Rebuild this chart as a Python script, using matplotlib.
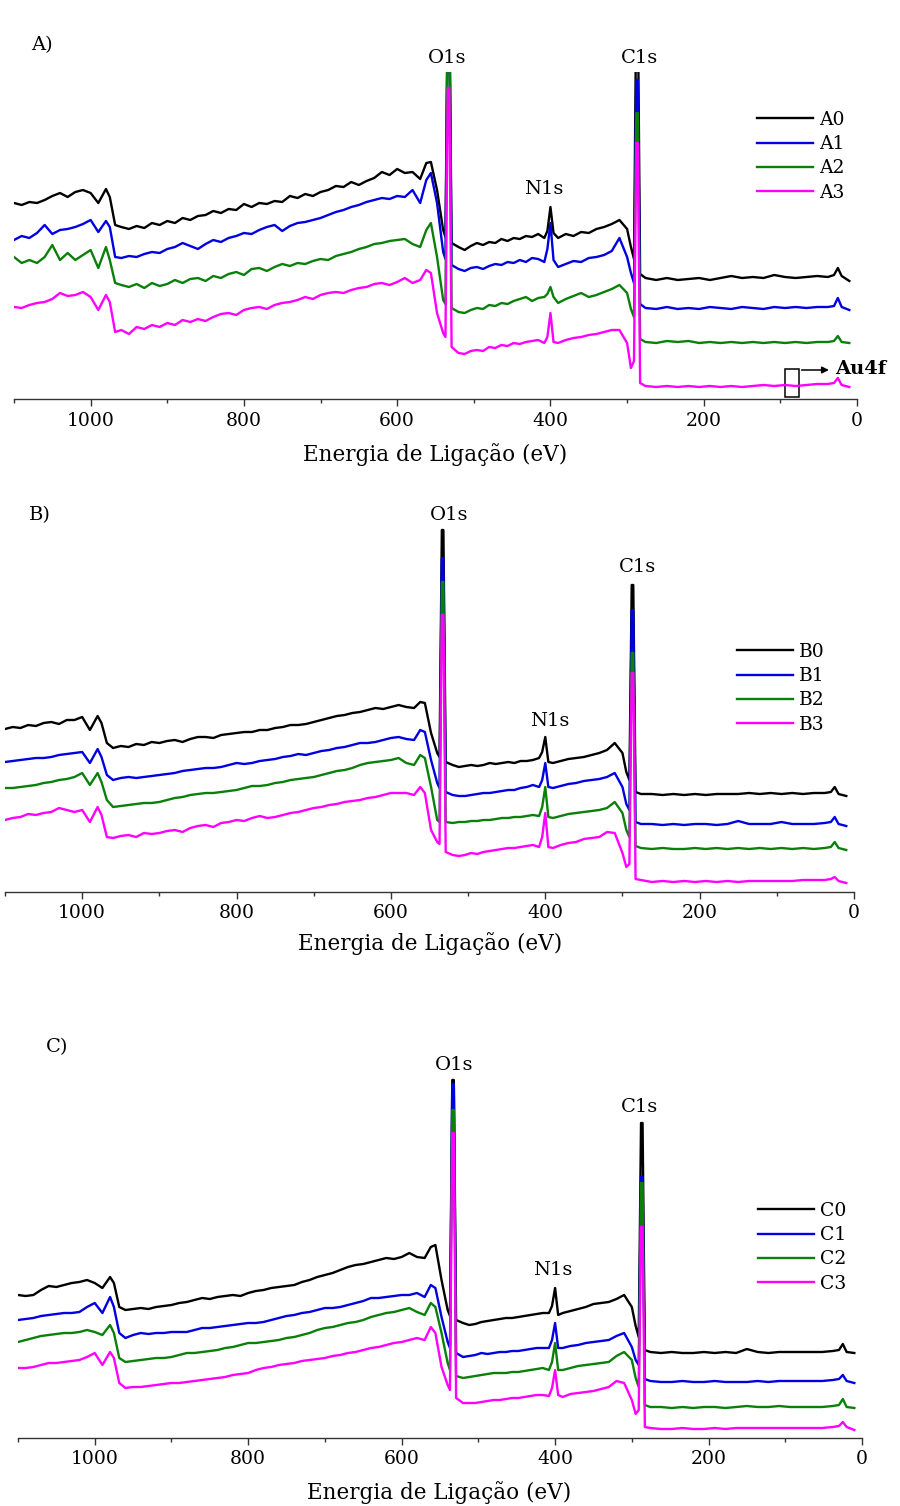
import matplotlib
matplotlib.use('Agg')
import matplotlib.pyplot as plt
from matplotlib.patches import Rectangle

plt.rcParams['font.family'] = ['DejaVu Serif']

# binding energy grid (eV), shared by all traces
energy = [1100, 1090, 1080, 1070, 1060, 1050, 1040, 1030, 1020, 1010, 1000, 990, 980, 975,
          968, 960, 950, 940, 930, 920, 910, 900, 890, 880, 870, 860, 850, 840, 830, 820,
          810, 800, 790, 780, 770, 760, 750, 740, 730, 720, 710, 700, 690, 680, 670, 660,
          650, 640, 630, 620, 610, 600,
          590, 580, 570, 562, 556, 548, 540, 537, 534, 532, 529,
          520, 512, 504, 496, 488, 480, 472, 464, 456, 448, 440, 432, 424, 416, 408, 404, 400, 396,
          390, 380, 370, 360, 350, 340, 330, 320, 310, 300, 295, 291, 288, 286, 283,
          276, 262, 248, 234, 220, 206, 192, 178, 164, 150, 136, 122, 108, 94, 80, 66, 52, 38,
          30, 25, 20, 10]

# panel A (offset intensities, a.u.)
A0 = [196, 194, 197, 196, 199, 203, 206, 202, 207, 209, 206, 196, 210, 202,
      174, 172, 170, 173, 171, 176, 174, 178, 176, 181, 179, 183, 184, 188, 186, 190,
      189, 195, 192, 196, 195, 198, 197, 203, 201, 205, 203, 207, 209, 213, 212, 217,
      214, 218, 221, 227, 224, 230,
      226, 227, 220, 236, 237, 209, 169, 162, 400, 400, 156,
      152, 149, 153, 156, 154, 157, 156, 160, 158, 161, 160, 163, 162, 165, 161, 168, 192, 166,
      161, 165, 163, 167, 166, 170, 172, 175, 179, 170, 152, 140, 400, 400, 125,
      121, 119, 121, 119, 120, 121, 119, 121, 123, 121, 122, 121, 124, 122, 121, 122, 123, 122,
      124, 131, 123, 118]
A1 = [159, 163, 161, 166, 174, 165, 169, 170, 172, 175, 179, 167, 178, 172,
      142, 141, 143, 142, 145, 147, 146, 150, 152, 156, 153, 150, 155, 159, 157, 161,
      163, 166, 165, 169, 172, 174, 168, 173, 176, 177, 179, 181, 184, 187, 189, 192,
      194, 197, 199, 201, 200, 203,
      202, 209, 196, 219, 226, 196, 147, 140, 400, 400, 134,
      130, 128, 131, 132, 130, 133, 135, 134, 137, 136, 139, 137, 141, 140, 137, 150, 176, 139,
      132, 135, 138, 137, 141, 142, 144, 148, 161, 142, 126, 116, 319, 319, 95,
      91, 90, 92, 90, 91, 90, 92, 91, 90, 92, 91, 90, 92, 91, 92, 91, 92, 92,
      93, 101, 92, 89]
A2 = [142, 136, 139, 136, 142, 154, 139, 146, 139, 144, 149, 131, 152, 139,
      116, 114, 112, 115, 111, 116, 113, 115, 119, 116, 120, 121, 118, 123, 121, 125,
      127, 124, 130, 131, 128, 132, 135, 133, 136, 135, 138, 140, 139, 143, 145, 147,
      150, 152, 155, 156, 158, 159,
      160, 155, 152, 169, 176, 142, 99, 95, 400, 400, 91,
      87, 86, 89, 91, 90, 94, 93, 96, 95, 98, 100, 102, 98, 101, 102, 105, 112, 102,
      96, 100, 103, 106, 102, 104, 107, 110, 114, 106, 90, 82, 286, 286, 60,
      57, 56, 58, 57, 58, 56, 57, 56, 57, 56, 57, 56, 57, 56, 57, 56, 57, 57,
      58, 63, 57, 56]
A3 = [92, 91, 94, 96, 97, 100, 106, 103, 104, 107, 102, 89, 104, 97,
      67, 69, 65, 72, 70, 74, 72, 76, 74, 79, 77, 80, 78, 82, 85, 86,
      84, 89, 91, 92, 90, 94, 96, 97, 99, 102, 100, 104, 106, 107, 106, 109,
      111, 112, 115, 116, 114, 117,
      121, 116, 119, 129, 126, 86, 66, 62, 311, 311, 52,
      46, 45, 48, 49, 48, 52, 51, 54, 53, 56, 55, 57, 58, 59, 56, 62, 86, 57,
      56, 59, 61, 62, 64, 65, 67, 69, 69, 56, 31, 38, 256, 256, 16,
      13, 12, 13, 12, 13, 12, 13, 12, 13, 12, 13, 14, 13, 14, 13, 14, 15, 15,
      16, 21, 14, 12]

# panel B
B0 = [163, 165, 164, 167, 166, 169, 170, 168, 172, 172, 175, 162, 176, 169,
      149, 144, 146, 145, 148, 147, 150, 149, 151, 152, 150, 153, 155, 155, 154, 157,
      158, 159, 160, 160, 162, 162, 164, 165, 167, 167, 168, 170, 172, 174, 176, 177,
      179, 180, 182, 184, 183, 185,
      187, 185, 184, 190, 189, 159, 139, 135, 362, 362, 130,
      127, 125, 126, 127, 126, 127, 129, 128, 129, 130, 129, 131, 131, 132, 134, 140, 155, 130,
      129, 131, 133, 134, 135, 137, 139, 142, 149, 139, 120, 112, 307, 307, 100,
      98, 98, 97, 98, 97, 98, 97, 98, 98, 98, 99, 98, 99, 98, 99, 98, 99, 99,
      100, 105, 98, 96]
B1 = [130, 131, 132, 133, 134, 134, 135, 137, 138, 139, 140, 129, 143, 135,
      117, 112, 114, 115, 114, 115, 116, 117, 118, 119, 121, 122, 123, 124, 124, 125,
      127, 129, 128, 129, 131, 132, 133, 135, 136, 138, 137, 139, 141, 142, 144, 145,
      147, 149, 149, 150, 152, 154,
      155, 153, 152, 162, 160, 132, 109, 104, 334, 334, 100,
      97, 96, 96, 97, 98, 99, 99, 100, 101, 102, 102, 104, 105, 107, 105, 112, 129, 105,
      104, 106, 108, 109, 111, 112, 113, 115, 119, 105, 88, 82, 282, 282, 70,
      68, 68, 67, 68, 67, 68, 68, 67, 68, 71, 68, 68, 68, 70, 68, 68, 68, 69,
      70, 75, 68, 66]
B2 = [104, 104, 105, 106, 107, 109, 110, 112, 113, 115, 119, 107, 119, 110,
      92, 85, 86, 87, 88, 89, 89, 90, 92, 94, 95, 97, 98, 99, 99, 100,
      101, 102, 104, 106, 106, 107, 109, 110, 112, 113, 114, 115, 117, 119, 121, 122,
      124, 127, 129, 130, 131, 132,
      134, 129, 127, 137, 134, 105, 72, 70, 310, 310, 70,
      69, 70, 70, 71, 71, 72, 72, 73, 74, 74, 75, 75, 76, 77, 76, 85, 105, 75,
      74, 76, 78, 79, 80, 81, 82, 84, 90, 79, 62, 55, 239, 239, 46,
      44, 43, 44, 43, 43, 44, 43, 44, 43, 44, 43, 44, 43, 44, 43, 44, 43, 44,
      45, 50, 44, 42]
B3 = [72, 74, 75, 78, 77, 79, 80, 84, 82, 80, 82, 70, 85, 77,
      55, 54, 56, 57, 55, 59, 58, 59, 61, 62, 60, 64, 66, 67, 65, 69,
      70, 72, 71, 74, 76, 74, 75, 77, 79, 80, 82, 84, 85, 87, 88, 90,
      91, 92, 94, 95, 97, 99,
      99, 99, 97, 105, 99, 62, 50, 48, 277, 277, 40,
      37, 36, 37, 39, 38, 40, 41, 42, 43, 44, 44, 45, 46, 47, 45, 55, 79, 45,
      44, 47, 49, 50, 53, 54, 55, 60, 59, 39, 25, 28, 219, 219, 13,
      12, 10, 11, 10, 11, 10, 11, 10, 11, 10, 11, 11, 11, 11, 11, 12, 12, 12,
      13, 15, 11, 9]

# panel C
C0 = [143, 142, 143, 148, 152, 151, 153, 155, 156, 158, 155, 150, 161, 155,
      131, 128, 129, 130, 129, 131, 132, 133, 135, 136, 138, 140, 139, 141, 142, 143,
      142, 145, 147, 148, 150, 151, 152, 153, 156, 158, 161, 163, 165, 168, 171, 173,
      174, 176, 178, 180, 179, 181,
      185, 181, 180, 191, 193, 158, 128, 122, 358, 358, 118,
      115, 113, 114, 116, 117, 118, 119, 120, 120, 121, 122, 123, 124, 125, 125, 132, 150, 123,
      125, 127, 129, 131, 134, 135, 136, 139, 143, 131, 112, 101, 315, 315, 88,
      86, 85, 86, 85, 85, 86, 85, 86, 85, 89, 86, 85, 86, 86, 86, 86, 86, 87,
      88, 94, 86, 85]
C1 = [118, 119, 120, 122, 123, 124, 125, 125, 126, 131, 135, 125, 141, 131,
      105, 100, 103, 105, 104, 105, 105, 106, 106, 106, 108, 110, 110, 111, 112, 113,
      114, 115, 115, 116, 118, 120, 122, 123, 125, 126, 128, 130, 130, 131, 133, 135,
      137, 140, 140, 141, 142, 143,
      143, 145, 141, 153, 150, 121, 96, 90, 354, 354, 85,
      81, 82, 83, 85, 84, 85, 86, 86, 87, 87, 88, 89, 90, 90, 90, 98, 115, 90,
      90, 92, 93, 95, 96, 97, 98, 102, 105, 91, 78, 73, 261, 261, 59,
      57, 56, 56, 57, 56, 56, 57, 56, 56, 56, 57, 56, 57, 57, 57, 57, 57, 58,
      59, 63, 57, 55]
C2 = [96, 98, 100, 102, 103, 104, 105, 105, 106, 108, 106, 103, 113, 105,
      80, 76, 77, 78, 79, 80, 80, 81, 83, 85, 85, 86, 87, 88, 90, 91,
      93, 95, 95, 96, 97, 98, 100, 101, 103, 105, 108, 110, 111, 113, 115, 116,
      118, 121, 123, 125, 126, 128,
      130, 126, 123, 135, 131, 105, 75, 68, 328, 328, 62,
      60, 61, 62, 63, 64, 65, 65, 65, 66, 66, 67, 68, 69, 70, 68, 76, 95, 68,
      68, 70, 72, 73, 74, 75, 76, 82, 86, 78, 60, 51, 255, 255, 33,
      31, 31, 30, 31, 30, 31, 31, 30, 31, 32, 31, 31, 32, 31, 31, 31, 31, 32,
      33, 39, 31, 30]
C3 = [70, 70, 71, 73, 75, 75, 76, 77, 78, 81, 85, 73, 86, 80,
      55, 50, 51, 51, 52, 53, 54, 55, 55, 56, 57, 58, 59, 60, 61, 63,
      64, 65, 68, 70, 71, 73, 74, 75, 77, 78, 79, 80, 82, 83, 85, 86,
      88, 90, 91, 93, 95, 96,
      98, 100, 98, 111, 105, 71, 53, 48, 305, 305, 40,
      35, 35, 35, 36, 37, 38, 38, 39, 40, 40, 41, 42, 43, 43, 42, 50, 68, 43,
      41, 44, 45, 46, 47, 49, 51, 57, 55, 38, 24, 28, 211, 211, 11,
      10, 9, 9, 10, 9, 9, 10, 9, 10, 10, 10, 10, 10, 10, 10, 10, 10, 11,
      12, 16, 11, 8]

colors = ['#000000', '#0000e0', '#0a800a', '#ff00ff']

W, H = 900, 1506
fig = plt.figure(figsize=(W / 100, H / 100), dpi=100)


def fx(x):
    return x / W


def fy(y):
    return 1 - y / H


def make_panel(left, right, bottom, top, ytop, traces, names, leg_xy):
    ax = fig.add_axes([fx(left), fy(bottom), (right - left) / W, (bottom - top) / H])
    for tr, nm, c in zip(traces, names, colors):
        ax.plot(energy, tr, color=c, lw=1.7, label=nm)
    ax.set_xlim(1100, 0)
    ax.set_ylim(0, ytop)
    for s in ['top', 'left', 'right']:
        ax.spines[s].set_visible(False)
    ax.spines['bottom'].set_color('#333333')
    ax.spines['bottom'].set_linewidth(1.0)
    ax.set_yticks([])
    ax.set_xticks([0, 200, 400, 600, 800, 1000])
    ax.set_xticks([100, 300, 500, 700, 900, 1100], minor=True)
    ax.tick_params(axis='x', which='major', length=5, width=1, color='#333333',
                   labelsize=13.5, pad=4)
    ax.tick_params(axis='x', which='minor', length=3, width=1, color='#333333')
    ax.legend(loc='upper left', bbox_to_anchor=(fx(leg_xy[0]), fy(leg_xy[1])),
              bbox_transform=fig.transFigure, frameon=False, fontsize=13.5,
              handlelength=3.0, handletextpad=0.3, labelspacing=0.33,
              borderpad=0, borderaxespad=0)
    return ax


axA = make_panel(14, 857, 399, 72, 327, [A0, A1, A2, A3], ['A0', 'A1', 'A2', 'A3'], (757, 111))
axB = make_panel(5, 854, 892, 512, 380, [B0, B1, B2, B3], ['B0', 'B1', 'B2', 'B3'], (737, 643))
axC = make_panel(18, 862, 1438, 1058, 380, [C0, C1, C2, C3], ['C0', 'C1', 'C2', 'C3'], (758, 1202))

# panel letters and peak labels
txt = [('A)', 42, 45), ('O1s', 447, 58), ('C1s', 640, 58), ('N1s', 544, 189),
       ('B)', 40, 515), ('O1s', 449, 515), ('C1s', 637, 567), ('N1s', 550, 721),
       ('C)', 57, 1047), ('O1s', 454, 1065), ('C1s', 640, 1107), ('N1s', 553, 1270)]
for s, x, y in txt:
    fig.text(fx(x), fy(y), s, ha='center', va='center', fontsize=14)

# axis titles
for x, y in [(435, 455), (430, 944), (439, 1493)]:
    fig.text(fx(x), fy(y), 'Energia de Ligação (eV)', ha='center', va='center', fontsize=15.5)

# Au4f marker in panel A
axA.add_patch(Rectangle((94, 2), -18, 28, fill=False, ec='black', lw=1.1, clip_on=False))
axA.annotate('', xy=(33, 29), xytext=(76, 29),
             arrowprops=dict(arrowstyle='-|>', color='black', lw=1.1, mutation_scale=10),
             annotation_clip=False)
fig.text(fx(835), fy(369), 'Au4f', ha='left', va='center', fontsize=14, fontweight='bold')

fig.savefig('out.png', dpi=100)
